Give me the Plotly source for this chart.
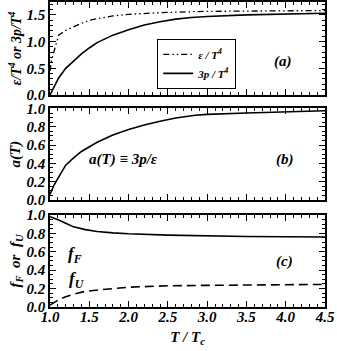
import plotly.graph_objects as go

# values
T_A = [1.0, 1.02, 1.05, 1.08, 1.11, 1.2, 1.3, 1.4, 1.5, 1.6, 1.7, 1.8,
       2.0, 2.2, 2.4, 2.6, 2.8, 3.0, 3.5, 4.0, 4.5]
EPS_T4 = [0.45, 0.65, 0.81, 0.99, 1.12, 1.21, 1.28, 1.34, 1.40, 1.43, 1.46, 1.48,
          1.51, 1.53, 1.54, 1.55, 1.56, 1.565, 1.57, 1.575, 1.58]
THREE_P_T4 = [0.0, 0.06, 0.15, 0.24, 0.32, 0.50, 0.64, 0.77, 0.88, 0.98, 1.05, 1.12,
              1.22, 1.31, 1.37, 1.42, 1.45, 1.47, 1.50, 1.515, 1.53]

T_B = [1.0, 1.05, 1.11, 1.2, 1.3, 1.4, 1.6, 1.8, 2.0, 2.2, 2.4, 2.6, 2.85,
       3.0, 3.5, 4.0, 4.5]
A_T = [0.06, 0.16, 0.25, 0.38, 0.46, 0.53, 0.63, 0.71, 0.77, 0.82, 0.86, 0.895, 0.925,
       0.935, 0.95, 0.965, 0.975]

T_C = [1.0, 1.05, 1.11, 1.2, 1.3, 1.45, 1.6, 1.8, 2.0, 2.5, 3.0, 3.5, 4.0, 4.5]
F_F = [0.98, 0.965, 0.945, 0.91, 0.87, 0.84, 0.82, 0.805, 0.795, 0.78, 0.77, 0.765, 0.762, 0.76]
F_U = [0.02, 0.05, 0.08, 0.11, 0.14, 0.17, 0.185, 0.20, 0.215, 0.23, 0.235, 0.24, 0.243, 0.245]

X_RANGE = [1.0, 4.5]

FONT = dict(family="Liberation Serif", color="black")
BIG = dict(FONT, size=15, weight="bold", style="italic")
TITLE = dict(FONT, size=14, weight="bold", style="italic")
SMALL = dict(FONT, size=11, weight="bold", style="italic")

fig = go.Figure()

fig.add_trace(go.Scatter(x=T_A, y=EPS_T4, mode="lines", name="ε / T<sup>4</sup>",
                         line=dict(color="black", width=1.3,
                                   dash="6px,3px,1.5px,3px,1.5px,3px"),
                         xaxis="x", yaxis="y"))
fig.add_trace(go.Scatter(x=T_A, y=THREE_P_T4, mode="lines", name="3p / T<sup>4</sup>",
                         line=dict(color="black", width=1.6),
                         xaxis="x", yaxis="y"))
fig.add_trace(go.Scatter(x=T_B, y=A_T, mode="lines", showlegend=False,
                         line=dict(color="black", width=1.6),
                         xaxis="x2", yaxis="y2"))
fig.add_trace(go.Scatter(x=T_C, y=F_F, mode="lines", showlegend=False,
                         line=dict(color="black", width=1.6),
                         xaxis="x3", yaxis="y3"))
fig.add_trace(go.Scatter(x=T_C, y=F_U, mode="lines", showlegend=False,
                         line=dict(color="black", width=1.6, dash="9px,5px"),
                         xaxis="x3", yaxis="y3"))

common = dict(
    showline=True, linecolor="black", linewidth=1.5, mirror="allticks",
    ticks="inside", ticklen=6, tickwidth=1, tickcolor="black",
    showgrid=False, zeroline=False, tickfont=BIG, automargin=False,
)
minor = dict(ticks="inside", ticklen=3, tickwidth=1, tickcolor="black", showgrid=False)

x_common = dict(common, range=X_RANGE, dtick=0.5, tick0=1.0, tickformat=".1f",
                minor=dict(minor, dtick=0.1))

fig.update_layout(
    width=337, height=351,
    margin=dict(l=50, r=12, t=2, b=44),
    paper_bgcolor="white", plot_bgcolor="white",
    font=FONT,
    xaxis=dict(x_common, anchor="y", showticklabels=False),
    xaxis2=dict(x_common, anchor="y2", matches="x", showticklabels=False),
    xaxis3=dict(x_common, anchor="y3", matches="x", ticklabelstandoff=-5,
                title=dict(text="T / T<sub>c</sub>", font=BIG, standoff=8)),
    yaxis=dict(common, domain=[0.695, 1.0], range=[0, 1.74], dtick=0.5, tick0=0,
               tickformat=".1f", minor=dict(minor, dtick=0.1),
               title=dict(text="ε/T<sup>4</sup> or 3p/T<sup>4</sup>", font=TITLE, standoff=2)),
    yaxis2=dict(common, domain=[0.351, 0.651], range=[0, 1.0], dtick=0.2, tick0=0,
                tickformat=".1f", minor=dict(minor, dtick=0.05),
                title=dict(text="a(T)", font=BIG, standoff=2)),
    yaxis3=dict(common, domain=[0.0, 0.302], range=[0, 1.0], dtick=0.2, tick0=0,
                tickformat=".1f", minor=dict(minor, dtick=0.05),
                title=dict(text="f<sub>F</sub>  or  f<sub>U</sub>", font=BIG, standoff=2)),
    legend=dict(x=0.39, y=0.879, xanchor="left", yanchor="top",
                bordercolor="black", borderwidth=1, bgcolor="white",
                font=SMALL, itemwidth=30, tracegroupgap=0),
    showlegend=True,
)

labels = [
    ("(a)", 3.97, 0.62, "x", "y", BIG),
    ("(b)", 3.99, 0.44, "x2", "y2", BIG),
    ("(c)", 3.99, 0.49, "x3", "y3", BIG),
    ("a(T) ≡ 3p/ε", 1.93, 0.44, "x2", "y2", BIG),
    ("f<sub>F</sub>", 1.32, 0.57, "x3", "y3", dict(BIG, size=17)),
    ("f<sub>U</sub>", 1.34, 0.29, "x3", "y3", dict(BIG, size=17)),
]
for text, x, y, xr, yr, f in labels:
    fig.add_annotation(text=text, x=x, y=y, xref=xr, yref=yr, showarrow=False, font=f)

fig.write_html("out.html", config={"displayModeBar": False},
               post_script="document.body.style.margin='0';document.body.style.padding='0';")
